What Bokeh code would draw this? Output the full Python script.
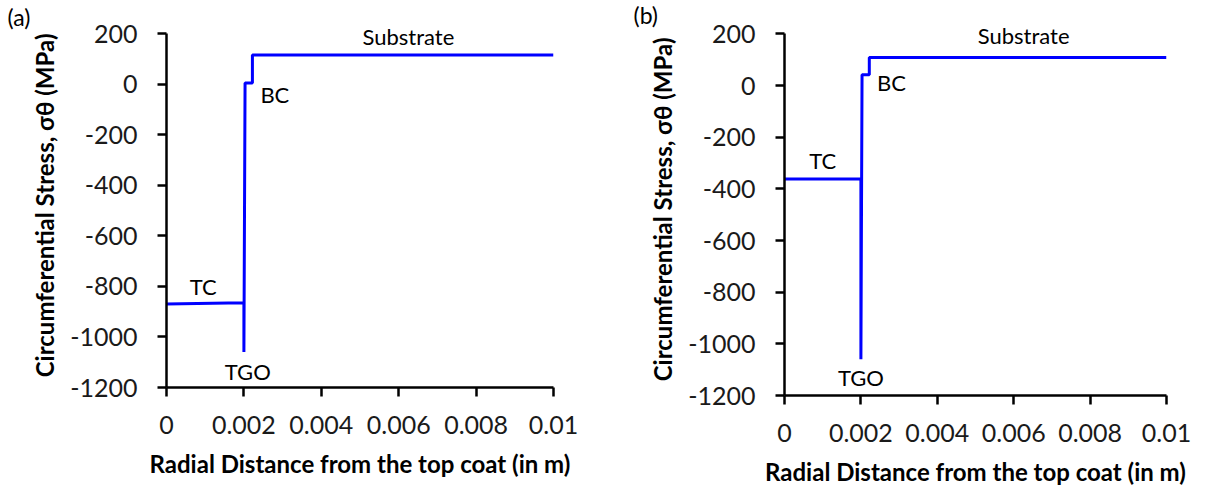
from bokeh.plotting import figure
from bokeh.layouts import row
from bokeh.models import FixedTicker, Label, Title
from bokeh.embed import file_html
from bokeh.resources import INLINE

# ---- data ----
a_x = [0, 0.002, 0.002, 0.00203, 0.00222, 0.00222, 0.01]
a_y = [-870, -865, -1060, 5, 5, 115, 115]
b_x = [0, 0.002, 0.002, 0.00203, 0.00222, 0.00222, 0.01]
b_y = [-362, -362, -1060, 42, 42, 108, 108]

x_ticks = [0, 0.002, 0.004, 0.006, 0.008, 0.01]
x_tick_labels = ["0", "0.002", "0.004", "0.006", "0.008", "0.01"]
y_ticks = [-1200, -1000, -800, -600, -400, -200, 0, 200]
y_tick_labels = ["-1200", "-1000", "-800", "-600", "-400", "-200", "0", "200"]

a_labels = [("TC", 0.00095, -800), ("TGO", 0.0021, -1135), ("BC", 0.0028, -40), ("Substrate", 0.00625, 190)]
b_labels = [("TC", 0.001, -290), ("TGO", 0.002, -1130), ("BC", 0.0028, 12), ("Substrate", 0.00626, 193)]

FONT = "Lato"


def make(xs, ys, labels, tag, fw, fh, left, right, tag_off, tag_standoff):
    p = figure(frame_width=fw, frame_height=fh, x_range=(0, 0.01), y_range=(-1200, 240),
               output_backend="svg", toolbar_location=None,
               min_border_left=left, min_border_right=right,
               min_border_top=23, min_border_bottom=60)
    p.outline_line_color = None
    p.xgrid.visible = False
    p.ygrid.visible = False

    p.add_layout(Title(text=tag, align="left", offset=tag_off, standoff=tag_standoff,
                       text_font=FONT, text_font_size="23px", text_font_style="normal",
                       text_color="black"), "above")

    p.line(xs, ys, line_color="#0000FF", line_width=3)

    p.xaxis.ticker = FixedTicker(ticks=x_ticks)
    p.xaxis.major_label_overrides = {t: s for t, s in zip(x_ticks, x_tick_labels)}
    p.yaxis.ticker = FixedTicker(ticks=y_ticks)
    p.yaxis.major_label_overrides = {t: s for t, s in zip(y_ticks, y_tick_labels)}
    p.yaxis.bounds = (-1200, 200)

    for ax in (p.xaxis, p.yaxis):
        ax.axis_line_width = 2.5
        ax.axis_line_color = "black"
        ax.major_tick_line_width = 2.5
        ax.major_tick_line_color = "black"
        ax.major_tick_out = 9
        ax.major_tick_in = 0
        ax.minor_tick_line_color = None
        ax.major_label_text_font = FONT
        ax.major_label_text_font_size = "25px"
        ax.major_label_text_color = "#1a1a1a"
        ax.axis_label_text_font = FONT
        ax.axis_label_text_font_style = "bold"
        ax.axis_label_text_font_size = "24px"
        ax.axis_label_text_color = "black"

    p.xaxis.axis_label = "Radial Distance from the top coat (in m)"
    p.xaxis.major_label_standoff = 19
    p.xaxis.axis_label_standoff = 12
    p.yaxis.axis_label = "Circumferential Stress, σθ (MPa)"
    p.yaxis.major_label_standoff = 20
    p.yaxis.axis_label_standoff = 8

    for txt, x, y in labels:
        p.add_layout(Label(x=x, y=y, text=txt, text_align="center", text_baseline="middle",
                           text_font=FONT, text_font_size="22px", text_color="black"))
    return p


pa = make(a_x, a_y, a_labels, "(a)", 387, 364, 166, 55, -159, -14)
pb = make(b_x, b_y, b_labels, "(b)", 382, 372, 176, 38, -151, -11)

layout = row(pa, pb)
open("out.html", "w").write(file_html(layout, INLINE))
